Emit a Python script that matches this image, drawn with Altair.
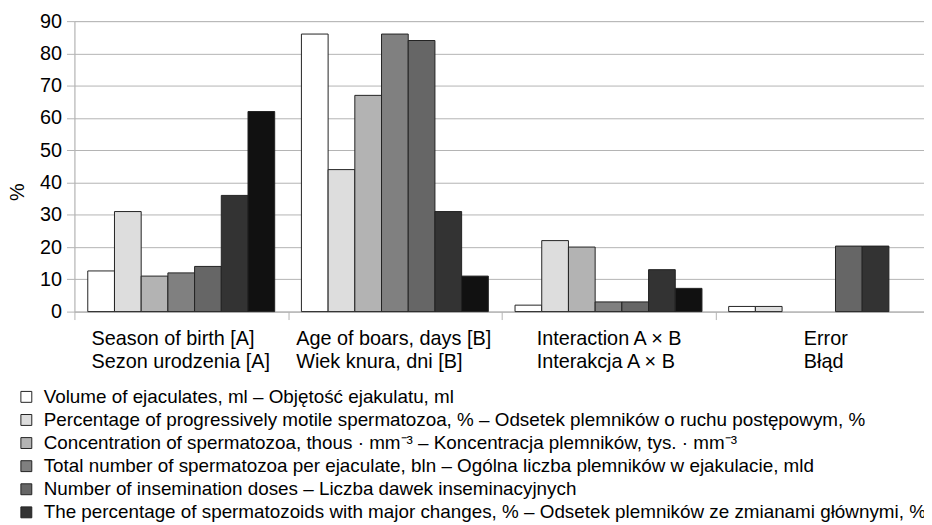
import altair as alt
import pandas as pd

categories = [
    "Season of birth [A]|Sezon urodzenia [A]",
    "Age of boars, days [B]|Wiek knura, dni [B]",
    "Interaction A × B|Interakcja A × B",
    "Error|Błąd",
]

series = [
    "Volume of ejaculates, ml – Objętość ejakulatu, ml",
    "Percentage of progressively motile spermatozoa, % – Odsetek plemników o ruchu postępowym, %",
    "Concentration of spermatozoa, thous · mm⁻³ – Koncentracja plemników, tys. · mm⁻³",
    "Total number of spermatozoa per ejaculate, bln – Ogólna liczba plemników w ejakulacie, mld",
    "Number of insemination doses – Liczba dawek inseminacyjnych",
    "The percentage of spermatozoids with major changes, % – Odsetek plemników ze zmianami głównymi, %",
    "The percentage of spermatozoids with minor changes, % – Odsetek plemników ze zmianami drobnymi, %",
]

colors = ["#ffffff", "#dddddd", "#b3b3b3", "#808080", "#666666", "#333333", "#111111"]

# values per series, in category order
volume = [12.6, 86, 2.0, 1.6]
motile = [31, 44, 22, 1.6]
concentration = [11, 67, 20, 0]
total_number = [12, 86, 3, 0]
doses = [14, 84, 3, 20.3]
major = [36, 31, 13, 20.3]
minor = [62, 11, 7.2, 0]

values = [volume, motile, concentration, total_number, doses, major, minor]

rows = []
for s, vals in zip(series, values):
    for c, v in zip(categories, vals):
        if v > 0:
            rows.append({"category": c, "series": s, "value": v})
df = pd.DataFrame(rows)

font = "Liberation Sans"

label_offsets = [-91, -100, -73, -19]
offset_cond = {
    "condition": [
        {"test": f"datum.value === '{c}'", "value": o}
        for c, o in zip(categories, label_offsets)
    ],
    "value": 0,
}

chart = (
    alt.Chart(df)
    .mark_bar(stroke="#222222", strokeWidth=1)
    .encode(
        x=alt.X(
            "category:N",
            sort=categories,
            scale=alt.Scale(paddingInner=0, paddingOuter=0, range=[0, 862]),
            axis=alt.Axis(
                title=None,
                tickBand="extent",
                labelAngle=0,
                labelAlign="left",
                labelBaseline="top",
                labelExpr="split(datum.label, '|')",
                labelLineHeight=23,
                labelFont=font,
                labelFontSize=20,
                labelColor="#000000",
                labelPadding=9,
                labelOffset=offset_cond,
                labelOverlap=False,
                tickSize=8,
                tickColor="#b3b3b3",
                domainColor="#b3b3b3",
                grid=False,
                labelLimit=400,
            ),
        ),
        xOffset=alt.XOffset(
            "series:N",
            sort=series,
            scale=alt.Scale(paddingInner=0, paddingOuter=0.5),
        ),
        y=alt.Y(
            "value:Q",
            scale=alt.Scale(domain=[0, 90]),
            axis=alt.Axis(
                title="%",
                titleFont=font,
                titleFontSize=20,
                titleFontWeight="normal",
                titleColor="#000000",
                titleAngle=-90,
                titleAlign="center",
                titleBaseline="middle",
                titleX=-57,
                titleY=172,
                values=list(range(0, 91, 10)),
                labelFont=font,
                labelFontSize=20,
                labelColor="#000000",
                labelPadding=5,
                tickSize=8,
                tickColor="#b3b3b3",
                domainColor="#b3b3b3",
                gridColor="#b3b3b3",
            ),
        ),
        color=alt.Color(
            "series:N",
            sort=series,
            scale=alt.Scale(domain=series, range=colors),
            legend=alt.Legend(
                title=None,
                orient="none",
                legendX=-58,
                legendY=369.5,
                direction="vertical",
                columns=1,
                symbolType="square",
                symbolSize=121,
                symbolStrokeColor="#222222",
                symbolStrokeWidth=1,
                labelFont=font,
                labelFontSize=19,
                labelColor="#000000",
                labelLimit=1200,
                labelOffset=8,
                rowPadding=3.3,
                padding=0,
            ),
        ),
    )
    .properties(
        width=857,
        height=293,
        autosize=alt.AutoSizeParams(type="none"),
        padding={"left": 67, "top": 11, "right": 0, "bottom": 213},
    )
    .configure_view(stroke=None)
    .configure(background="#ffffff")
)

chart.save("out.html", embed_options={"renderer": "svg", "actions": False})
